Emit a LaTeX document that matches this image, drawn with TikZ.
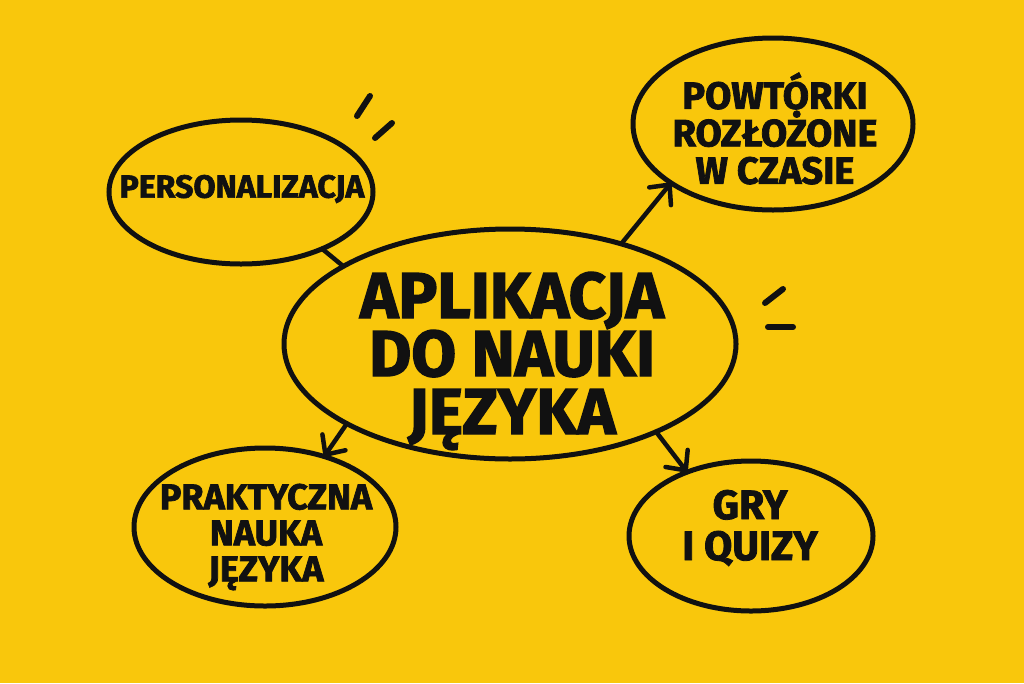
\documentclass[tikz,border=0pt]{standalone}
\usepackage{fontspec}
\newfontfamily\hf{Fira Sans}[BoldFeatures={FakeBold=2}]
\usetikzlibrary{arrows.meta,shapes.geometric}
\definecolor{bg}{RGB}{249,199,12}
\definecolor{ink}{RGB}{17,17,17}
\tikzset{
  bubble/.style={draw=ink, line width=5pt, ellipse, inner sep=0pt, outer sep=0pt},
  label text/.style={text=ink, align=center, inner sep=0pt, font=\hf\bfseries},
  link/.style={draw=ink, line width=4.5pt, line cap=round},
  arrowlink/.style={link, -{Straight Barb[length=15pt,width=28pt,line width=4.5pt,round]}},
  tick/.style={draw=ink, line width=6pt, line cap=round}
}
\begin{document}
\begin{tikzpicture}[x=1pt,y=-1pt]
\fill[bg] (0,0) rectangle (1024,683);
\useasboundingbox (0,0) rectangle (1024,683);

% ellipses
\node[bubble, minimum width=452pt, minimum height=230pt] (main) at (510,344) {};
\node[bubble, minimum width=264pt, minimum height=144pt] (pers) at (241,192) {};
\node[bubble, minimum width=280pt, minimum height=172pt] (pw) at (773,124) {};
\node[bubble, minimum width=262pt, minimum height=158pt] (prak) at (265,527) {};
\node[bubble, minimum width=244pt, minimum height=150pt] (gry) at (751,536) {};

% texts
\node[label text, font=\hf\bfseries\fontsize{65}{58}\selectfont] (tmain) at (512,361) {APLIKACJA\\DO NAUKI\\JĘZYKA};
\node[label text, font=\hf\bfseries\fontsize{32}{36}\selectfont] (tpers) at (242,189) {PERSONALIZACJA};
\node[label text, font=\hf\bfseries\fontsize{38}{37.5}\selectfont] (tpw) at (775,128.5) {POWTÓRKI\\ROZŁOŻONE\\W CZASIE};
\node[label text, font=\hf\bfseries\fontsize{36}{36}\selectfont] (tprak) at (266,537) {PRAKTYCZNA\\NAUKA\\JĘZYKA};
\node[label text, font=\hf\bfseries\fontsize{41}{41}\selectfont] (tgry) at (750,528) {GRY\\I QUIZY};

% connectors
\draw[link] (pers.-35.6) -- (main.155.3);
\draw[arrowlink] (main.42.2) -- (pw.210.3);
\draw[arrowlink] (main.206.6) -- (prak.50.7);
\draw[arrowlink] (main.-31.8) -- (gry.135.4);

% decorative ticks
\coordinate (a1) at (370,96);  \coordinate (a2) at (357,116);
\coordinate (b1) at (392,123); \coordinate (b2) at (375,138);
\coordinate (c1) at (783,289); \coordinate (c2) at (765,303);
\coordinate (d1) at (768,327); \coordinate (d2) at (793,327);
\draw[tick] (a1) -- (a2);
\draw[tick] (b1) -- (b2);
\draw[tick] (c1) -- (c2);
\draw[tick] (d1) -- (d2);
\end{tikzpicture}
\end{document}
